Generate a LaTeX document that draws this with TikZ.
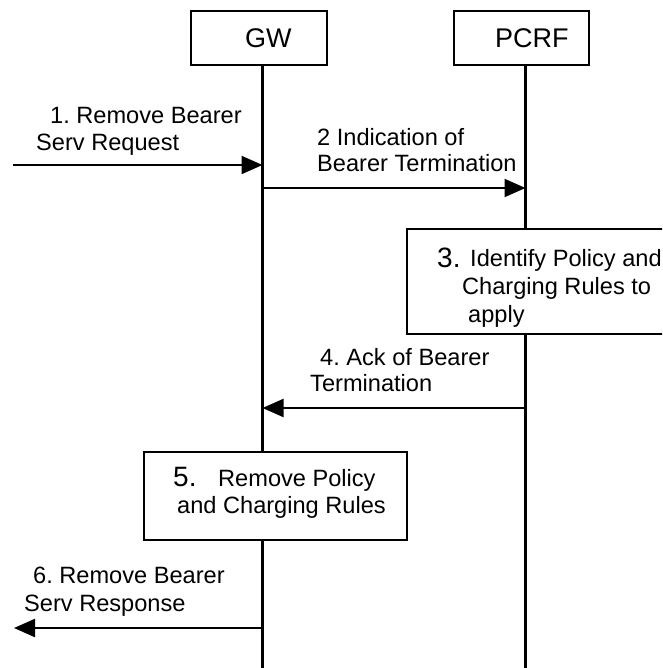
\documentclass[tikz,border=0pt]{standalone}
\usepackage{fontspec}
\setmainfont{Liberation Sans}
\usetikzlibrary{arrows.meta}
\frenchspacing

\tikzset{
  entity/.style={draw, line width=2.2pt, fill=white, inner sep=0pt, anchor=north west},
  procbox/.style={draw, line width=2.2pt, fill=white, inner sep=0pt, anchor=north west},
  lifeline/.style={line width=2.2pt},
  msg/.style={line width=2.2pt, -{Triangle[length=21pt,width=18pt]}},
  txt/.style={inner sep=0pt, anchor=base west, font=\fontsize{23.6}{28}\selectfont},
  bigtxt/.style={inner sep=0pt, anchor=base west, font=\fontsize{28}{32}\selectfont},
}

\begin{document}
\begin{tikzpicture}[x=1pt,y=-1pt]
  \useasboundingbox (0,0) rectangle (662,668);
  \clip (0,0) rectangle (662,668);
  \fill[white] (0,0) rectangle (662,668);

  % lifeline ends
  \coordinate (gwtop) at (262.5,64);
  \coordinate (gwbot) at (262.5,668);
  \coordinate (pctop) at (525.5,64);
  \coordinate (pcbot) at (525.5,668);

  % lifelines
  \draw[lifeline] (gwtop) -- (gwbot);
  \draw[lifeline] (pctop) -- (pcbot);

  % entities
  \node[entity, minimum width=136pt, minimum height=54pt] (gw) at (190,10) {};
  \node[entity, minimum width=135pt, minimum height=54pt] (pcrf) at (453,10) {};
  \node[bigtxt, font=\fontsize{27}{31}\selectfont] (gwlbl) at (245,48) {GW};
  \node[bigtxt, font=\fontsize{27}{31}\selectfont] (pclbl) at (495,48) {PCRF};

  % processing boxes
  \node[procbox, minimum width=300pt, minimum height=105pt] (s3) at (406,228) {};
  \node[procbox, minimum width=263pt, minimum height=88pt] (s5) at (143,451) {};

  % 1. request from the left into GW
  \coordinate (in1) at (13,165);
  \coordinate (gw1) at (262.5,165);
  \draw[msg] (in1) -- (gw1);
  \node[txt] (t1a) at (50,123.5) {1. Remove Bearer};
  \node[txt] (t1b) at (36,150.5) {Serv Request};

  % 2. GW -> PCRF
  \coordinate (gw2) at (262.5,188);
  \coordinate (pc2) at (525.5,188);
  \draw[msg] (gw2) -- (pc2);
  \node[txt] (t2a) at (317,145.5) {2 Indication of};
  \node[txt] (t2b) at (317,171.5) {Bearer Termination};

  % 3. policy decision at PCRF
  \node[bigtxt] (t3n) at (437,267) {3.};
  \node[txt] (t3a) at (470,266) {Identify Policy and};
  \node[txt] (t3b) at (462,294) {Charging Rules to};
  \node[txt] (t3c) at (468,322) {apply};

  % 4. PCRF -> GW
  \coordinate (pc4) at (525.5,408);
  \coordinate (gw4) at (262.5,408);
  \draw[msg] (pc4) -- (gw4);
  \node[txt] (t4a) at (320,365.5) {4. Ack of Bearer};
  \node[txt] (t4b) at (310,391.5) {Termination};

  % 5. rule removal at GW
  \node[bigtxt] (t5n) at (173,486.5) {5.};
  \node[txt] (t5a) at (218,486) {Remove Policy};
  \node[txt] (t5b) at (177,513) {and Charging Rules};

  % 6. response from GW to the left
  \coordinate (gw6) at (262.5,628);
  \coordinate (out6) at (14,628);
  \draw[msg] (gw6) -- (out6);
  \node[txt] (t6a) at (33,583.5) {6. Remove Bearer};
  \node[txt] (t6b) at (24,611.5) {Serv Response};
\end{tikzpicture}
\end{document}
